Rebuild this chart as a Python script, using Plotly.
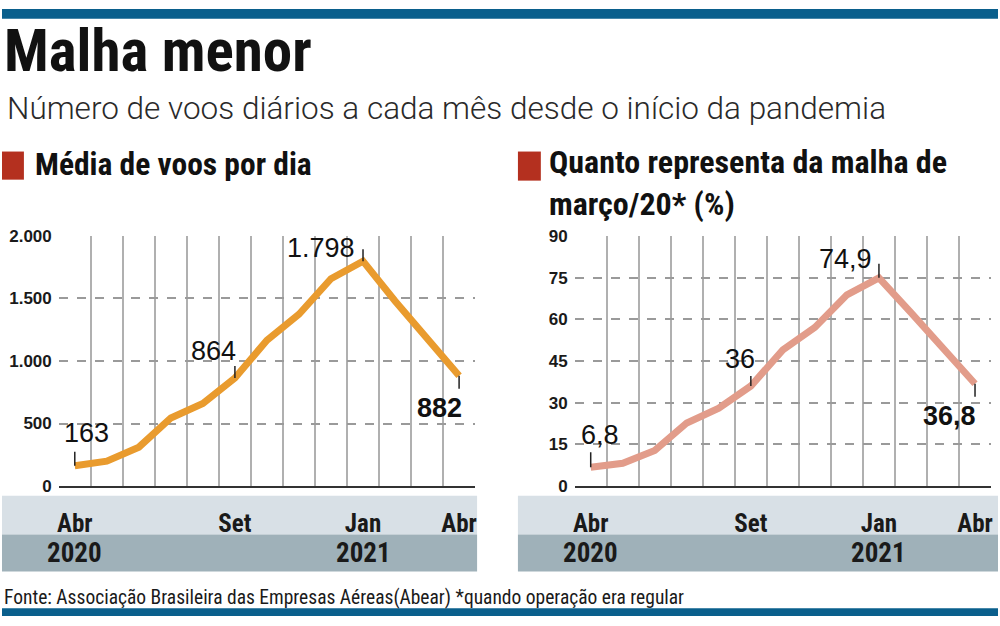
import plotly.graph_objects as go

# dados (Abr/2020 a Abr/2021)
meses = ["Abr", "Mai", "Jun", "Jul", "Ago", "Set", "Out", "Nov", "Dez", "Jan", "Fev", "Mar", "Abr"]
voos_dia = [163, 199, 311, 544, 660, 864, 1166, 1373, 1658, 1798, 1480, 1180, 882]
pct_marco = [6.8, 8.2, 12.8, 22.7, 28.0, 36.0, 49.0, 57.1, 68.8, 74.9, 62.4, 49.5, 36.8]

tick_meses = [0, 5, 9, 12]
tick_meses_txt = ["Abr", "Set", "Jan", "Abr"]
anos_pos = [0, 9]
anos_txt = ["2020", "2021"]

# rótulos destacados: (indice, texto, negrito)
rot_voos = [(0, "163", False), (5, "864", False), (9, "1.798", False), (12, "882", True)]
rot_pct = [(0, "6,8", False), (5, "36", False), (9, "74,9", False), (12, "36,8", True)]

NARROW = "Liberation Sans Narrow, Roboto Condensed, DejaVu Sans Condensed, sans-serif"
SANS = "Liberation Sans, Arial, sans-serif"
LARANJA = "#e99b2e"
SALMAO = "#e29c8a"
VERMELHO = "#b4301f"
AZUL = "#0a5f8c"

W, H = 1000, 626


def px_x(p):
    return p / W


def px_y(p):
    return 1 - p / H


x = list(range(len(meses)))
fig = go.Figure()
fig.add_trace(go.Scatter(x=x, y=voos_dia, mode="lines", line=dict(color=LARANJA, width=7),
                         xaxis="x", yaxis="y", hoverinfo="skip"))
fig.add_trace(go.Scatter(x=x, y=pct_marco, mode="lines", line=dict(color=SALMAO, width=7),
                         xaxis="x2", yaxis="y2", hoverinfo="skip"))

ydom = [px_y(492), px_y(234)]
eixo_x = dict(range=[-0.5, 12.5], tickmode="array", tickvals=tick_meses, ticktext=tick_meses_txt,
              showgrid=False, zeroline=False, showline=True, linecolor="#333", linewidth=2,
              ticks="", ticklabelstandoff=14,
              tickfont=dict(family=NARROW, size=25, color="#1a1a1a", weight="bold"),
              minor=dict(tickmode="linear", tick0=-0.5, dtick=1, showgrid=True,
                         gridcolor="#b0b0b0", gridwidth=1.6, ticks=""),
              fixedrange=True)
eixo_y = dict(showgrid=True, gridcolor="#9a9a9a", griddash="dash", gridwidth=1.5,
              zeroline=False, showline=False, ticks="", ticklabelstandoff=6,
              tickfont=dict(family=SANS, size=17, color="#1a1a1a", weight="bold"),
              fixedrange=True)

fig.update_layout(
    width=W, height=H, margin=dict(l=0, r=0, t=0, b=0),
    paper_bgcolor="white", plot_bgcolor="white", showlegend=False,
    xaxis=dict(eixo_x, domain=[px_x(57), px_x(475)], anchor="y"),
    yaxis=dict(eixo_y, domain=ydom, range=[0, 2000], tickvals=[0, 500, 1000, 1500, 2000],
               ticktext=["0", "500", "1.000", "1.500", "2.000"], anchor="x"),
    xaxis2=dict(eixo_x, domain=[px_x(575), px_x(993)], anchor="y2"),
    yaxis2=dict(eixo_y, domain=ydom, range=[0, 90], tickvals=[0, 15, 30, 45, 60, 75, 90], anchor="x2"),
)

shapes = [
    dict(type="rect", xref="paper", yref="paper", x0=0, x1=1, y0=px_y(10), y1=1,
         fillcolor=AZUL, line_width=0),
    dict(type="rect", xref="paper", yref="paper", x0=0, x1=1, y0=0, y1=px_y(618),
         fillcolor=AZUL, line_width=0),
    dict(type="rect", xref="paper", yref="paper", x0=px_x(0), x1=px_x(22), y0=px_y(176), y1=px_y(147),
         fillcolor=VERMELHO, line_width=0),
    dict(type="rect", xref="paper", yref="paper", x0=px_x(518), x1=px_x(541), y0=px_y(177), y1=px_y(147),
         fillcolor=VERMELHO, line_width=0),
]
for bx0, bx1 in [(0, 477), (518, 1000)]:
    shapes.append(dict(type="rect", xref="paper", yref="paper", x0=px_x(bx0), x1=px_x(bx1),
                       y0=px_y(542), y1=px_y(502), fillcolor="#d8e0e6", line_width=0, layer="below"))
    shapes.append(dict(type="rect", xref="paper", yref="paper", x0=px_x(bx0), x1=px_x(bx1),
                       y0=px_y(580), y1=px_y(542), fillcolor="#9fb1b9", line_width=0, layer="below"))
fig.update_layout(shapes=shapes)

ann = [
    dict(text="Malha menor", x=px_x(0), y=px_y(80), xanchor="left", yanchor="bottom",
         font=dict(family=NARROW, size=59, color="#111", weight="bold")),
    dict(text="Número de voos diários a cada mês desde o início da pandemia", x=px_x(3), y=px_y(124),
         xanchor="left", yanchor="bottom", font=dict(family="Roboto", size=31.5, color="#2a2a2a", weight=300)),
    dict(text="Média de voos por dia", x=px_x(31), y=px_y(182), xanchor="left", yanchor="bottom",
         font=dict(family=NARROW, size=31.5, color="#111", weight="bold")),
    dict(text="Quanto representa da malha de<br>março/20* (%)", x=px_x(547), y=px_y(223),
         xanchor="left", yanchor="bottom", align="left",
         font=dict(family=NARROW, size=32, color="#111", weight="bold")),
    dict(text="Fonte: Associação Brasileira das Empresas Aéreas(Abear) *quando operação era regular",
         x=px_x(0), y=px_y(607), xanchor="left", yanchor="middle",
         font=dict(family=NARROW, size=19.5, color="#1a1a1a")),
]
for k in ["x", "x2"]:
    for pos, txt in zip(anos_pos, anos_txt):
        ann.append(dict(text=txt, x=pos, xref=k, y=px_y(561), yref="paper", yanchor="middle",
                        font=dict(family=NARROW, size=27, color="#1a1a1a", weight="bold")))

# deslocamentos dos rótulos: (xshift, yshift, tamanho do traço)
desl_voos = {0: (12, 33, 16), 5: (-21, 27, 14), 9: (-42, 13, 14), 12: (-20, -32, -15)}
desl_pct = {0: (9, 32, 17), 5: (-11, 27, 12), 9: (-33, 19, 16), 12: (-26, -32, -15)}

for (serie, rots, desl, xr, yr) in [(voos_dia, rot_voos, desl_voos, "x", "y"),
                                     (pct_marco, rot_pct, desl_pct, "x2", "y2")]:
    for i, txt, negrito in rots:
        dx, dy, traco = desl[i]
        ann.append(dict(text=" ", x=i, y=serie[i], xref=xr, yref=yr, showarrow=True, arrowhead=0,
                        arrowwidth=1.5, arrowcolor="#222", ax=0, ay=-traco, standoff=0,
                        font=dict(size=1)))
        ann.append(dict(text=txt, x=i, y=serie[i], xref=xr, yref=yr, showarrow=False,
                        xshift=dx, yshift=dy,
                        font=dict(family=SANS, size=27, color="#111",
                                  weight="bold" if negrito else "normal")))

for a in ann:
    a.setdefault("xref", "paper")
    a.setdefault("yref", "paper")
    a.setdefault("showarrow", False)
fig.update_layout(annotations=ann)

ajuste_pagina = ("document.documentElement.style.margin='0';"
                 "document.body.style.margin='0';document.body.style.overflow='hidden';")
fig.write_html("out.html", config={"displayModeBar": False}, post_script=ajuste_pagina)
